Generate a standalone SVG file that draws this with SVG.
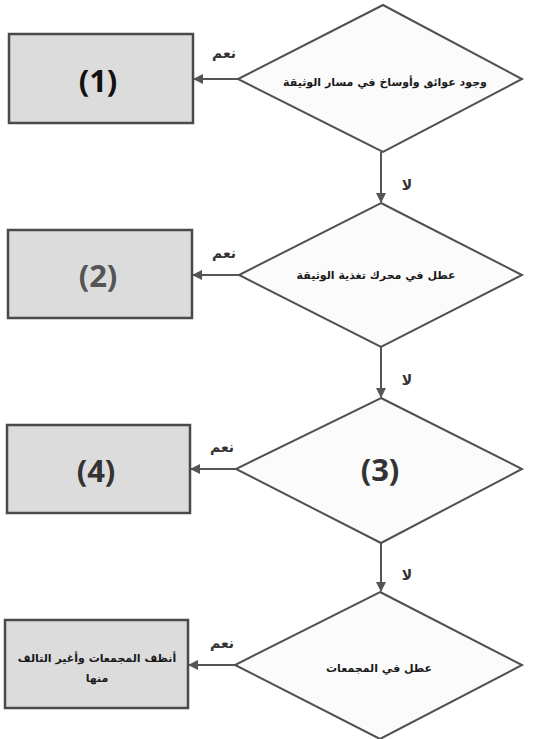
<svg xmlns="http://www.w3.org/2000/svg" width="533" height="739" viewBox="0 0 533 739">
<style>
.dia{fill:#fbfbfb;stroke:#505050;stroke-width:2}
.box{fill:#dcdcdc;stroke:#4a4a4a;stroke-width:2.5}
.ar{font-family:"DejaVu Sans",sans-serif;font-weight:bold;font-size:11px;fill:#1a1a1a;text-anchor:middle}
.lab{font-family:"DejaVu Sans",sans-serif;font-weight:bold;font-size:14px;fill:#333;text-anchor:middle}
.num{font-family:"Open Sans","Liberation Sans",sans-serif;font-weight:bold;font-size:31px;fill:#333;text-anchor:middle}
.con{stroke:#555;stroke-width:2;fill:none;marker-end:url(#ah)}
</style>
<defs>
<marker id="ah" markerWidth="10" markerHeight="10" refX="9" refY="5" orient="auto" markerUnits="userSpaceOnUse">
<path d="M0,0 L10,5 L0,10 Z" fill="#555"/>
</marker>
</defs>
<rect width="533" height="739" fill="#fff"/>
<g id="connectors">
<line class="con" x1="238" y1="79" x2="194" y2="79"/>
<line class="con" x1="381" y1="152" x2="381" y2="202"/>
<line class="con" x1="239" y1="275" x2="193" y2="275"/>
<line class="con" x1="381" y1="347" x2="381" y2="397"/>
<line class="con" x1="236" y1="469" x2="191" y2="469"/>
<line class="con" x1="381" y1="543" x2="381" y2="591"/>
<line class="con" x1="235" y1="665" x2="189" y2="665"/>
<text class="lab" x="224" y="58">نعم</text>
<text class="lab" x="224" y="258">نعم</text>
<text class="lab" x="222" y="452">نعم</text>
<text class="lab" x="222" y="648">نعم</text>
<text class="lab" x="407" y="190">لا</text>
<text class="lab" x="407" y="385">لا</text>
<text class="lab" x="407" y="580">لا</text>
</g>
<g id="d1">
<polygon class="dia" points="383,5 522,79 383,152 238,79"/>
<text class="ar" x="385" y="86">وجود عوائق وأوساخ في مسار الوثيقة</text>
</g>
<g id="b1">
<rect class="box" x="9" y="34" width="184" height="89"/>
<text class="num" x="98" y="92" style="fill:#111">(1)</text>
</g>
<g id="d2">
<polygon class="dia" points="381,203 522,275 381,347 239,275"/>
<text class="ar" x="376" y="279">عطل في محرك تغذية الوثيقة</text>
</g>
<g id="b2">
<rect class="box" x="8" y="230" width="184" height="88"/>
<text class="num" x="98" y="287" style="fill:#555">(2)</text>
</g>
<g id="d3">
<polygon class="dia" points="381,398 522,469 381,543 236,469"/>
<text class="num" x="380" y="481">(3)</text>
</g>
<g id="b4">
<rect class="box" x="7" y="425" width="183" height="88"/>
<text class="num" x="96" y="482">(4)</text>
</g>
<g id="d4">
<polygon class="dia" points="380,592 522,665 380,739 235,665"/>
<text class="ar" x="379" y="672">عطل في المجمعات</text>
</g>
<g id="b5">
<rect class="box" x="5" y="620" width="183" height="88"/>
<text class="ar" x="97" y="662">أنظف المجمعات وأغير التالف</text>
<text class="ar" x="97" y="682">منها</text>
</g>
</svg>
